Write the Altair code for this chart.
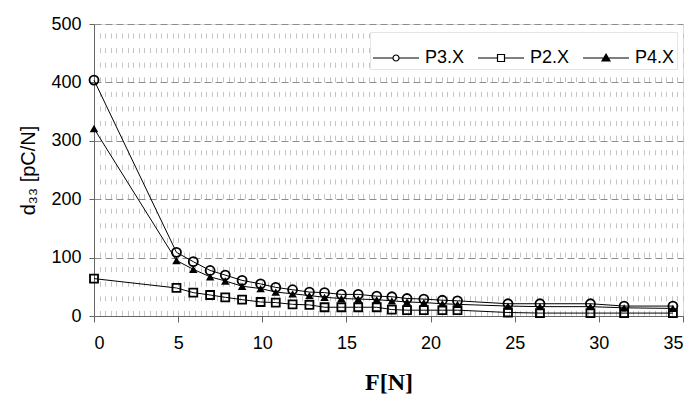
import altair as alt
import numpy as np
import pandas as pd

force = [0, 4.9, 5.9, 6.9, 7.8, 8.8, 9.9, 10.8, 11.8, 12.8, 13.7, 14.7,
         15.7, 16.8, 17.7, 18.6, 19.6, 20.7, 21.6, 24.6, 26.5, 29.5, 31.5, 34.4]
p3 = [404, 109, 93, 78, 70, 61, 55, 49, 45, 41, 40, 37,
      37, 34, 33, 30, 29, 27, 26, 21, 21, 21, 17, 17]
p2 = [64, 48, 40, 36, 32, 28, 24, 23, 20, 19, 15, 15,
      15, 15, 11, 10, 10, 10, 10, 6, 5, 5, 5, 5]
p4 = [321, 95, 80, 67, 60, 51, 47, 41, 38, 35, 32, 30,
      29, 28, 26, 24, 23, 21, 20, 17, 16, 16, 14, 13]
series_names = ["P3.X", "P2.X", "P4.X"]
x_ticks = [0, 5, 10, 15, 20, 25, 30, 35]
y_ticks = [0, 100, 200, 300, 400, 500]
minor_x = [round(v, 4) for v in np.arange(1 / 3, 35.001, 1 / 3)]

rows = []
for name, vals in zip(series_names, [p3, p2, p4]):
    for f, v in zip(force, vals):
        rows.append({"F": f, "d33": v, "series": name})
df = pd.DataFrame(rows)

xscale = alt.Scale(domain=[0, 35], nice=False, zero=False)
yscale = alt.Scale(domain=[0, 500], nice=False)

y_axis = alt.Axis(values=y_ticks, title="d₃₃ [pC/N]", grid=True, orient="left",
                  gridDash=[7, 4], gridColor="#8c8c8c", gridWidth=1,
                  domainColor="#666666", tickColor="#666666", tickSize=5,
                  labelFont="Liberation Sans", labelFontSize=18, labelColor="black",
                  labelPadding=8, titleFont="Liberation Sans", titleFontSize=20,
                  titleFontWeight="normal", titleColor="black", titlePadding=12)
y_enc = alt.Y("d33:Q", scale=yscale, axis=y_axis)

x_main_axis = alt.Axis(values=x_ticks, title="F[N]", grid=False, orient="bottom",
                       domainColor="#666666", tickColor="#666666", tickSize=6,
                       labelFont="Liberation Sans", labelFontSize=18, labelColor="black",
                       labelPadding=12, titleFont="Liberation Serif", titleFontSize=24,
                       titleFontWeight="bold", titleColor="black", titlePadding=18)
x_grid_axis = alt.Axis(values=minor_x, title=None, grid=True, labels=False, orient="bottom",
                       ticks=False, domain=False, gridColor="#c4c4c4",
                       gridDash=[5, 9.6], gridDashOffset=5.6, gridWidth=1)

lines = alt.Chart(df).mark_line(color="black", strokeWidth=1).encode(
    x=alt.X("F:Q", scale=xscale, axis=x_grid_axis),
    y=y_enc,
    detail="series:N",
)

shape_of = {"P3.X": "circle", "P2.X": "square", "P4.X": "triangle-up"}
size_of = {"P3.X": 81, "P2.X": 64, "P4.X": 72}
point_layers = []
for i, name in enumerate(series_names):
    filled = name == "P4.X"
    pts = alt.Chart(df).transform_filter(alt.datum.series == name).mark_point(
        shape=shape_of[name], size=size_of[name], filled=filled,
        color="black", strokeWidth=1.8 if not filled else 1, opacity=1,
    ).encode(
        x=alt.X("F:Q", scale=xscale, axis=x_main_axis if i == 0 else None),
        y=y_enc,
    )
    point_layers.append(pts)

circle_path = ("M-1,0L-0.13,0A0.13,0.13 0 1,1 0.13,0A0.13,0.13 0 1,1 -0.13,0"
               "M0.13,0L1,0")
square_path = ("M-1,0L-0.152,0M-0.152,-0.152L0.152,-0.152L0.152,0.152L-0.152,0.152Z"
               "M0.152,0L1,0")
triangle_path = ("M-1,0L1,0M0,-0.17L0.174,0.13L-0.174,0.13Z"
                 "M0,-0.09L0.11,0.1L-0.11,0.1Z"
                 "M0,-0.02L0.05,0.08L-0.05,0.08Z")

legend_layer = alt.Chart(df).transform_filter("datum.F < 0").mark_point(
    color="black", stroke="black", strokeWidth=1, opacity=1, filled=False,
).encode(
    x=alt.X("F:Q", scale=xscale, axis=None),
    y=y_enc,
    shape=alt.Shape("series:N",
                    scale=alt.Scale(domain=series_names,
                                    range=[circle_path, square_path, triangle_path]),
                    legend=alt.Legend(title=None, orient="none", legendX=276, legendY=8,
                                      direction="horizontal", columns=3,
                                      symbolSize=2116, symbolStrokeWidth=1.2,
                                      symbolStrokeColor="black",
                                      labelFont="Liberation Sans", labelFontSize=18,
                                      labelColor="black", labelOffset=5,
                                      columnPadding=10, padding=2,
                                      fillColor="white", strokeColor="#e4e4e4")),
)

chart = alt.layer(lines, *point_layers, legend_layer).resolve_axis(
    x="independent"
).properties(
    width=589, height=292,
    autosize=alt.AutoSizeParams(type="none"),
    padding={"left": 86, "top": 16, "right": 6, "bottom": 80},
).configure_view(stroke=None).configure(background="white")

chart.save("out.html", embed_options={"renderer": "svg", "actions": False})
